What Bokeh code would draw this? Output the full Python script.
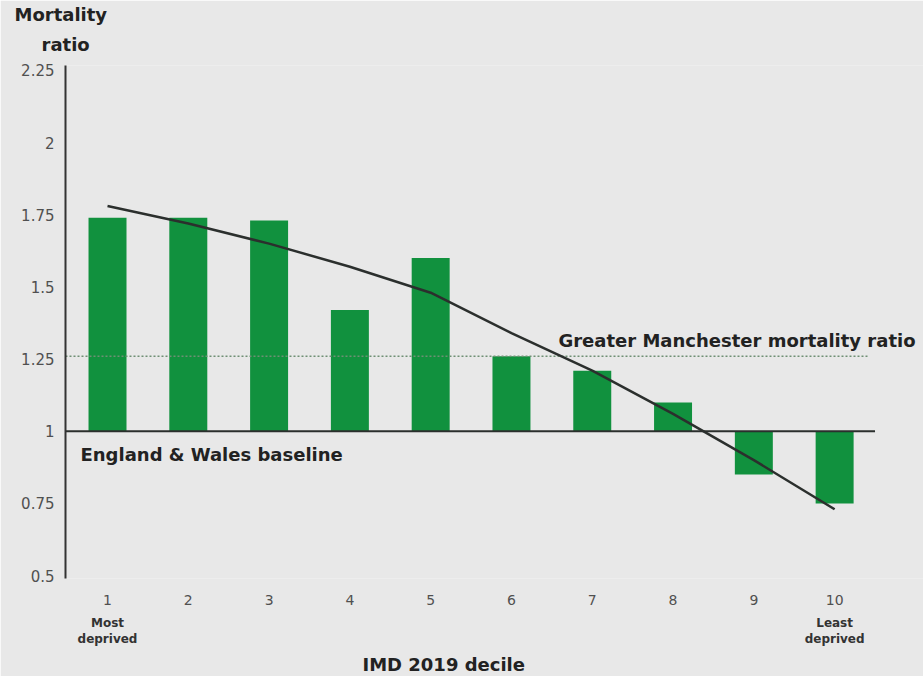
from bokeh.plotting import figure
from bokeh.models import FixedTicker, Label, Range1d, LinearAxis, Title
from bokeh.embed import file_html
from bokeh.resources import INLINE

# ---- data ----
deciles = [1, 2, 3, 4, 5, 6, 7, 8, 9, 10]
mortality_ratio = [1.74, 1.74, 1.73, 1.42, 1.60, 1.26, 1.21, 1.10, 0.85, 0.75]
trend = [1.78, 1.72, 1.65, 1.57, 1.48, 1.34, 1.21, 1.06, 0.90, 0.73]
baseline = 1.0
gm_ratio = 1.26
y_ticks = [0.5, 0.75, 1.0, 1.25, 1.5, 1.75, 2.0, 2.25]
y_tick_labels = ["0.5", "0.75", "1", "1.25", "1.5", "1.75", "2", "2.25"]
x_tick_labels = [str(d) for d in deciles]
end_ticks = [deciles[0], deciles[-1]]
end_labels = ["Most\ndeprived", "Least\ndeprived"]

BG = "#e8e8e8"
GREEN = "#11913e"
DARK = "#2b2f2d"
FONT = "DejaVu Sans"

p = figure(width=923, height=676, output_backend="svg", toolbar_location=None,
           x_range=Range1d(0.48, 11.10), y_range=Range1d(0.49, 2.267),
           min_border_left=65, min_border_right=0, min_border_top=65, min_border_bottom=96)
p.background_fill_color = BG
p.border_fill_color = BG
p.outline_line_color = None
p.grid.visible = False

x_start = p.x_range.start
x_stop = deciles[-1] + 0.5

# bars from baseline
p.vbar(x=deciles, top=mortality_ratio, bottom=baseline, width=0.47,
       fill_color=GREEN, line_color=None)

# reference lines (Greater Manchester ratio dotted, England & Wales baseline solid)
p.segment(x0=[x_start], y0=[gm_ratio], x1=[x_stop - 0.08], y1=[gm_ratio],
          line_color="#6f8f74", line_width=1.6, line_dash="2 2")
p.segment(x0=[x_start], y0=[baseline], x1=[x_stop], y1=[baseline],
          line_color=DARK, line_width=2.2)

# trend curve
p.line(deciles, trend, line_color=DARK, line_width=2.5)

# y axis
p.yaxis.ticker = FixedTicker(ticks=y_ticks)
p.yaxis.major_label_overrides = {t: l for t, l in zip(y_ticks, y_tick_labels)}
p.yaxis.axis_line_color = "#333333"
p.yaxis.axis_line_width = 2
p.yaxis.major_tick_line_color = None
p.yaxis.minor_tick_line_color = None
p.yaxis.major_label_text_font = FONT
p.yaxis.major_label_text_font_size = "15px"
p.yaxis.major_label_text_color = "#505050"
p.yaxis.major_label_standoff = 5

# x axis (decile numbers)
p.xaxis.ticker = FixedTicker(ticks=deciles)
p.xaxis.major_label_overrides = {d: l for d, l in zip(deciles, x_tick_labels)}
p.xaxis.axis_line_color = None
p.xaxis.major_tick_line_color = None
p.xaxis.minor_tick_line_color = None
p.xaxis.major_label_text_font = FONT
p.xaxis.major_label_text_font_size = "14px"
p.xaxis.major_label_text_color = "#505050"
p.xaxis.major_label_standoff = 10

# second x axis: end descriptors
ax2 = LinearAxis(ticker=FixedTicker(ticks=end_ticks),
                 major_label_overrides={t: l for t, l in zip(end_ticks, end_labels)})
ax2.axis_line_color = None
ax2.major_tick_line_color = None
ax2.minor_tick_line_color = None
ax2.major_label_text_font = FONT
ax2.major_label_text_font_style = "bold"
ax2.major_label_text_font_size = "12px"
ax2.major_label_text_color = "#333333"
ax2.major_label_standoff = 2
p.add_layout(ax2, "below")

# x-axis title
p.add_layout(Title(text="IMD 2019 decile", align="left", offset=297, text_font=FONT,
                   text_font_style="bold", text_font_size="18px",
                   text_color="#222222", standoff=4), "below")

# y-axis title as two stacked titles above the frame
for txt, off, so in (("ratio", -24, 21), ("Mortality", -51, -6)):
    p.add_layout(Title(text=txt, align="left", offset=off, text_font=FONT,
                       text_font_style="bold", text_font_size="18px",
                       text_color="#222222", standoff=so), "above")

def lab(text, x, y, xo, yo, size="18px"):
    p.add_layout(Label(x=x, y=y, x_offset=xo, y_offset=yo, text=text,
                       text_font=FONT, text_font_size=size, text_font_style="bold",
                       text_color="#222222", text_align="left", text_baseline="middle"))

lab("England & Wales baseline", deciles[0], baseline, -27, -23)
lab("Greater Manchester mortality ratio", deciles[5], gm_ratio, 47, 16)

open("out.html", "w").write(file_html(p, INLINE))
